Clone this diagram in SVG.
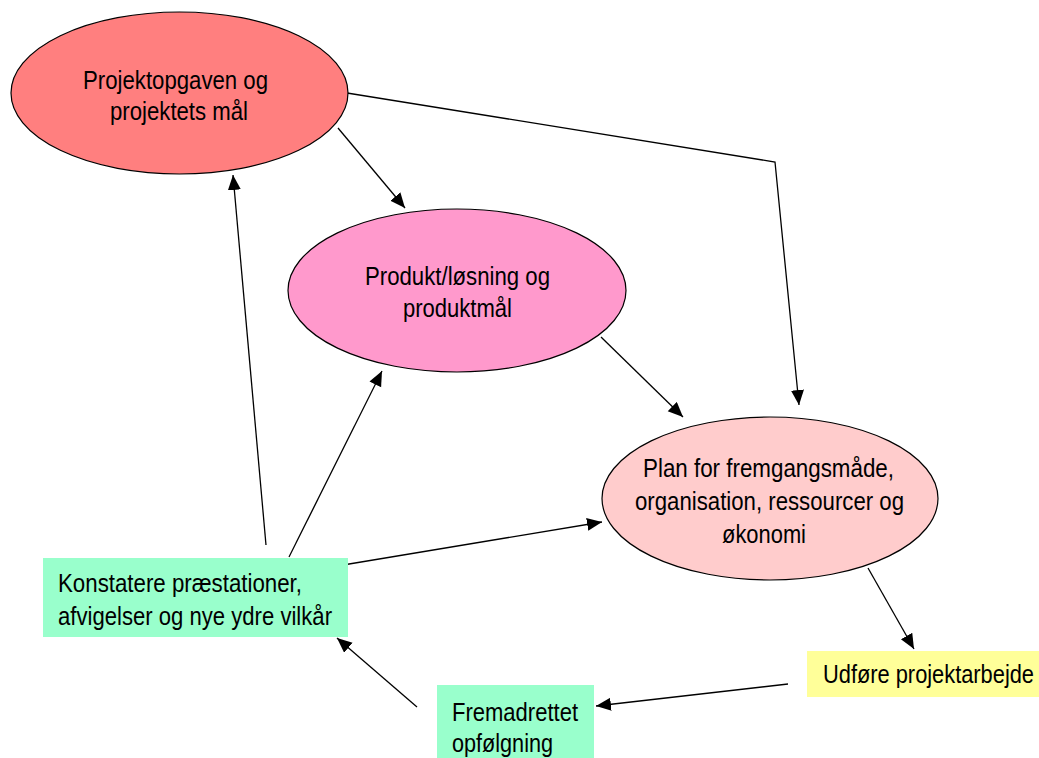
<svg xmlns="http://www.w3.org/2000/svg" width="1039" height="758" viewBox="0 0 1039 758">
<style>
  .lbl { font-family: "Liberation Sans", Arial, sans-serif; font-size: 25px; fill: #000; }
  .ell { stroke: #000; stroke-width: 1.2; }
  .con { stroke: #000; stroke-width: 1.3; fill: none; marker-end: url(#ah); }
</style>
<defs>
  <marker id="ah" markerUnits="userSpaceOnUse" markerWidth="16" markerHeight="14" refX="15" refY="6.5" orient="auto">
    <path d="M0,0 L15,6.5 L0,13 z" fill="#000"/>
  </marker>
</defs>
<rect width="1039" height="758" fill="#fff"/>

<g id="connectors">
  <polyline class="con" points="347,93 775,162 799,405"/>
  <line class="con" x1="338" y1="128" x2="405" y2="208"/>
  <line class="con" x1="601" y1="337" x2="683" y2="417"/>
  <line class="con" x1="266" y1="545" x2="233" y2="175"/>
  <line class="con" x1="289" y1="557" x2="382" y2="371"/>
  <line class="con" x1="325" y1="568" x2="602" y2="522"/>
  <line class="con" x1="868" y1="568" x2="914" y2="649"/>
  <line class="con" x1="788" y1="684" x2="596" y2="706"/>
  <line class="con" x1="417" y1="707" x2="337" y2="638"/>
</g>

<g id="node-projektopgaven">
  <ellipse class="ell" cx="179.5" cy="93" rx="168.5" ry="81" fill="#ff7f7f"/>
  <text class="lbl" x="83" y="89" textLength="185" lengthAdjust="spacingAndGlyphs">Projektopgaven og</text>
  <text class="lbl" x="110" y="119.5" textLength="138" lengthAdjust="spacingAndGlyphs">projektets mål</text>
</g>

<g id="node-produkt">
  <ellipse class="ell" cx="457" cy="290.5" rx="169" ry="81.5" fill="#ff99cc"/>
  <text class="lbl" x="365" y="285" textLength="185" lengthAdjust="spacingAndGlyphs">Produkt/løsning og</text>
  <text class="lbl" x="403" y="316.5" textLength="109" lengthAdjust="spacingAndGlyphs">produktmål</text>
</g>

<g id="node-plan">
  <ellipse class="ell" cx="770" cy="498.5" rx="168" ry="81.5" fill="#ffcccc"/>
  <text class="lbl" x="643" y="477" textLength="251" lengthAdjust="spacingAndGlyphs">Plan for fremgangsmåde,</text>
  <text class="lbl" x="635" y="510" textLength="269" lengthAdjust="spacingAndGlyphs">organisation, ressourcer og</text>
  <text class="lbl" x="722" y="542.5" textLength="84" lengthAdjust="spacingAndGlyphs">økonomi</text>
</g>

<g id="node-konstatere">
  <rect x="43" y="558" width="305" height="79" fill="#99ffcc"/>
  <text class="lbl" x="58" y="591.5" textLength="244" lengthAdjust="spacingAndGlyphs">Konstatere præstationer,</text>
  <text class="lbl" x="58" y="625" textLength="274" lengthAdjust="spacingAndGlyphs">afvigelser og nye ydre vilkår</text>
</g>

<g id="node-udfore">
  <rect x="807" y="651" width="232" height="46" fill="#ffff99"/>
  <text class="lbl" x="823" y="683" textLength="211" lengthAdjust="spacingAndGlyphs">Udføre projektarbejde</text>
</g>

<g id="node-fremadrettet">
  <rect x="437" y="685" width="157" height="73" fill="#99ffcc"/>
  <text class="lbl" x="452" y="721" textLength="126" lengthAdjust="spacingAndGlyphs">Fremadrettet</text>
  <text class="lbl" x="452" y="752" textLength="101" lengthAdjust="spacingAndGlyphs">opfølgning</text>
</g>
</svg>
